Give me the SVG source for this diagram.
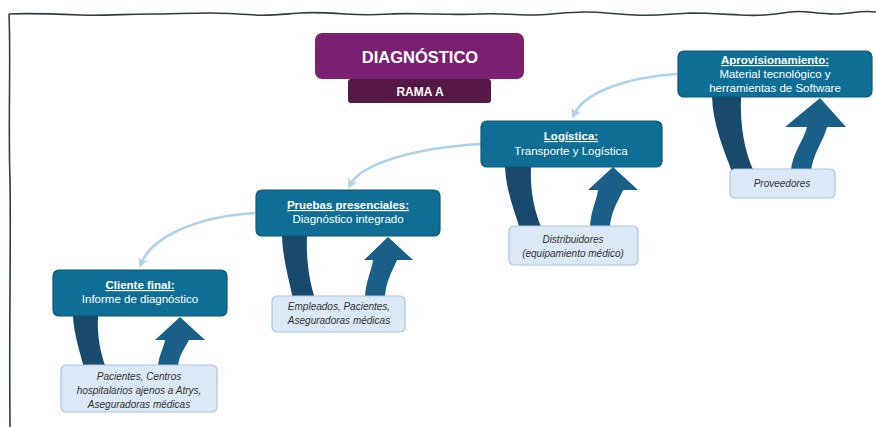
<svg xmlns="http://www.w3.org/2000/svg" width="876" height="427" viewBox="0 0 876 427">
<defs>
<style>
.main{fill:#0f6e95;stroke:#0a5677;stroke-width:1.2}
.light{fill:#dbe8f5;stroke:#a9c5df;stroke-width:1.2}
.t{font-family:"Liberation Sans",Arial,sans-serif;fill:#fff;text-anchor:middle;font-size:11.5px}
.h{font-weight:bold;text-decoration:underline}
.s{font-family:"Liberation Sans",Arial,sans-serif;fill:#333;text-anchor:middle;font-size:10px;font-style:italic}
.band{fill:#174a6c}
.up{fill:#1a5f87}
.conn{fill:none;stroke:#acd3ec;stroke-width:2.5}
</style>
<marker id="ah" viewBox="0 0 10 10" refX="6" refY="5" markerWidth="4" markerHeight="4" orient="auto">
<path d="M0,0 L10,5 L0,10 L3,5 Z" fill="#acd3ec"/>
</marker>
</defs>
<rect width="876" height="427" fill="#fff"/>
<g id="frame" fill="none" stroke="#2f3c42" stroke-width="1.6">
<path d="M876,12 C860,10 850,14 835,14 C815,14 805,10 790,12 C770,15 760,16 740,15 C720,14 705,13 690,13 C670,14 655,16 635,15 C615,14 600,12 585,12 C565,12 550,15 530,15 C510,15 500,13 480,14 C460,15 450,14 435,14 C420,14 405,13 390,14 C375,15 360,15 345,14 C330,13 315,12 300,13 C285,14 270,16 255,15 C240,14 225,13 210,13 C190,13 170,14 150,14 C125,14 105,16 80,15 C55,14 30,13 9,14"/>
<path d="M9,14 C11,60 8,120 10,180 C11,250 9,320 10,427"/>
</g>
<g id="title">
<rect x="315" y="33" width="209" height="46" rx="7" fill="#7b2071"/>
<rect x="348" y="79" width="143" height="24" rx="3" fill="#561845"/>
<text x="420" y="63" font-family="Liberation Sans,Arial,sans-serif" font-weight="bold" font-size="16.5" fill="#fff" text-anchor="middle">DIAGNÓSTICO</text>
<text x="420" y="96" font-family="Liberation Sans,Arial,sans-serif" font-weight="bold" font-size="12" fill="#fff" text-anchor="middle">RAMA A</text>
</g>
<g id="loops">
<path class="band" d="M712,97 C713,125 724,150 732,172 L754,172 C744,150 740,125 741,97 Z"/>
<path class="up" d="M820,98 L846,127 L827,127 C824,140 812,155 811,172 L791,172 C791,155 804,140 807,127 L785,127 Z"/>
<path class="band" d="M505,167 C506,190 514,210 520,229 L542,229 C534,210 530,190 531,167 Z"/>
<path class="up" d="M613,167 L638,190 L623,190 C619,200 610,212 610,229 L590,229 C590,212 597,200 598,190 L588,190 Z"/>
<path class="band" d="M282,236 C283,260 289,280 293,299 L315,299 C309,280 306,260 307,236 Z"/>
<path class="up" d="M388,237 L413,260 L397,260 C393,270 385,282 385,299 L365,299 C365,282 372,270 373,260 L364,260 Z"/>
<path class="band" d="M73,316 C74,335 80,352 84,368 L106,368 C100,352 97,335 98,316 Z"/>
<path class="up" d="M180,317 L205,340 L189,340 C185,348 178,356 178,368 L158,368 C158,356 164,348 165,340 L155,340 Z"/>
</g>
<g id="connectors">
<path class="conn" d="M677,74 C620,78 582,95 574,115" marker-end="url(#ah)"/>
<path class="conn" d="M482,144 C410,148 360,165 350,185" marker-end="url(#ah)"/>
<path class="conn" d="M255,213 C190,217 150,240 141,264" marker-end="url(#ah)"/>
</g>
<g id="aprovisionamiento">
<rect class="main" x="678" y="51" width="194" height="46" rx="6"/>
<text class="t h" x="775" y="64">Aprovisionamiento:</text>
<text class="t" x="775" y="78">Material tecnológico y</text>
<text class="t" x="775" y="92">herramientas de Software</text>
</g>
<g id="logistica">
<rect class="main" x="481" y="121" width="181" height="46" rx="6"/>
<text class="t h" x="571" y="140">Logística:</text>
<text class="t" x="571" y="155">Transporte y Logística</text>
</g>
<g id="pruebas">
<rect class="main" x="256" y="190" width="184" height="46" rx="6"/>
<text class="t h" x="348" y="209">Pruebas presenciales:</text>
<text class="t" x="348" y="223">Diagnóstico integrado</text>
</g>
<g id="cliente">
<rect class="main" x="53" y="270" width="174" height="46" rx="6"/>
<text class="t h" x="140" y="289">Cliente final:</text>
<text class="t" x="140" y="303">Informe de diagnóstico</text>
</g>
<g id="proveedores">
<rect class="light" x="730" y="169" width="105" height="29" rx="5"/>
<text class="s" x="782" y="187">Proveedores</text>
</g>
<g id="distribuidores">
<rect class="light" x="509" y="226" width="129" height="39" rx="5"/>
<text class="s" x="573" y="243">Distribuidores</text>
<text class="s" x="573" y="257">(equipamiento médico)</text>
</g>
<g id="empleados">
<rect class="light" x="272" y="296" width="133" height="36" rx="5"/>
<text class="s" x="339" y="310">Empleados, Pacientes,</text>
<text class="s" x="339" y="324">Aseguradoras médicas</text>
</g>
<g id="pacientes">
<rect class="light" x="61" y="365" width="156" height="47" rx="5"/>
<text class="s" x="139" y="380">Pacientes, Centros</text>
<text class="s" x="139" y="394">hospitalarios ajenos a Atrys,</text>
<text class="s" x="139" y="408">Aseguradoras médicas</text>
</g>
</svg>
